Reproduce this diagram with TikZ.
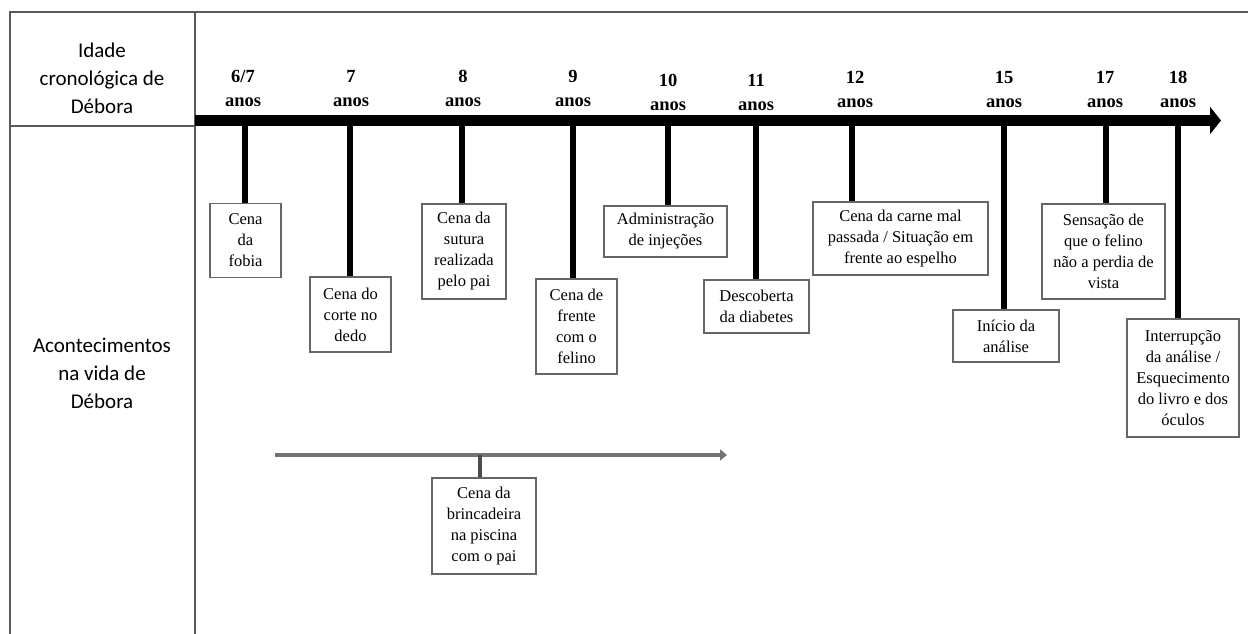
\documentclass[tikz,border=0pt]{standalone}
\usepackage{fontspec}
\setmainfont{Liberation Serif}
\newfontfamily\headfont{Carlito}
\usetikzlibrary{arrows.meta}
\usetikzlibrary{calc}

\begin{document}
\begin{tikzpicture}[x=1pt, y=-1pt,
        frame_style/.style={draw=black!65, line width=1.3pt},
        head_style/.style={align=center, inner sep=0pt, font=\headfont\fontsize{21}{28}\selectfont},
        age_style/.style={align=center, anchor=south, inner sep=0pt, font=\bfseries\fontsize{18.5}{24}\selectfont},
        event_style/.style={draw=black!60, line width=1.2pt, align=center, inner sep=0pt, font=\fontsize{16.5}{21}\selectfont},
        line_style/.style={draw=black, line width=11pt, -{Triangle[length=11pt,width=27pt]}},
        tick_style/.style={draw=black, line width=6.5pt},
        sub_line_style/.style={draw=black!55, line width=4.5pt, -{Triangle[length=7pt,width=11pt]}},
        sub_tick_style/.style={draw=black!70, line width=4pt}]

        \useasboundingbox (0,0) rectangle (1248,634);

        % table frame
        \draw [frame_style] (10,634) -- (10,12) -- (1248,12);
        \draw [frame_style] (195,12) -- (195,634);
        \draw [frame_style] (10,126) -- (195,126);
        \node [head_style](h1) at (102,78) {Idade\\cronológica de\\Débora};
        \node [head_style](h2) at (102,373) {Acontecimentos\\na vida de\\Débora};

        % main time line
        \coordinate (l0) at (195,120.5);
        \coordinate (l1) at (1221,120.5);
        \draw [line_style] (l0) -- (l1);

        \coordinate (t1) at (245,120);
        \coordinate (t2) at (350,120);
        \coordinate (t3) at (462,120);
        \coordinate (t4) at (573,120);
        \coordinate (t5) at (668,120);
        \coordinate (t6) at (756,120);
        \coordinate (t7) at (852,120);
        \coordinate (t8) at (1004,120);
        \coordinate (t9) at (1106,120);
        \coordinate (t10) at (1178,120);

        \node [age_style](a1) at (243,107) {6/7\\anos};
        \node [age_style](a2) at (351,107) {7\\anos};
        \node [age_style](a3) at (463,107) {8\\anos};
        \node [age_style](a4) at (573,107) {9\\anos};
        \node [age_style](a5) at (668,111) {10\\anos};
        \node [age_style](a6) at (756,111) {11\\anos};
        \node [age_style](a7) at (855,108) {12\\anos};
        \node [age_style](a8) at (1004,108) {15\\anos};
        \node [age_style](a9) at (1105,108) {17\\anos};
        \node [age_style](a10) at (1178,108) {18\\anos};

        % events
        \node [event_style, minimum width=71pt, minimum height=74pt](e1) at (245.5,240.5) {Cena\\da\\fobia};
        \node [event_style, minimum width=81pt, minimum height=75pt](e2) at (350.5,314.5) {Cena do\\corte no\\dedo};
        \node [event_style, minimum width=84pt, minimum height=95pt](e3) at (464,251.5) {Cena da\\sutura\\realizada\\pelo pai};
        \node [event_style, minimum width=81pt, minimum height=95pt](e4) at (576.5,326.5) {Cena de\\frente\\com o\\felino};
        \node [event_style, minimum width=123pt, minimum height=51pt](e5) at (665.5,231.5) {Administração\\de injeções};
        \node [event_style, minimum width=105pt, minimum height=53pt](e6) at (756.5,306.5) {Descoberta\\da diabetes};
        \node [event_style, minimum width=175pt, minimum height=73pt](e7) at (900.5,238.5) {Cena da carne mal\\passada / Situação em\\frente ao espelho};
        \node [event_style, minimum width=106pt, minimum height=52pt](e8) at (1006,336) {Início da\\análise};
        \node [event_style, minimum width=123pt, minimum height=95pt](e9) at (1103.5,251.5) {Sensação de\\que o felino\\não a perdia de\\vista};
        \node [event_style, minimum width=112pt, minimum height=118pt](e10) at (1183,378) {Interrupção\\da análise /\\Esquecimento\\do livro e dos\\óculos};

        \draw [tick_style] (t1) -- (t1 |- e1.north);
        \draw [tick_style] (t2) -- (t2 |- e2.north);
        \draw [tick_style] (t3) -- (t3 |- e3.north);
        \draw [tick_style] (t4) -- (t4 |- e4.north);
        \draw [tick_style] (t5) -- (t5 |- e5.north);
        \draw [tick_style] (t6) -- (t6 |- e6.north);
        \draw [tick_style] (t7) -- (t7 |- e7.north);
        \draw [tick_style] (t8) -- (t8 |- e8.north);
        \draw [tick_style] (t9) -- (t9 |- e9.north);
        \draw [tick_style] (t10) -- (t10 |- e10.north);

        % second time line
        \coordinate (s0) at (275,455);
        \coordinate (s1) at (727,455);
        \coordinate (s2) at (480,455);
        \draw [sub_line_style] (s0) -- (s1);
        \node [event_style, minimum width=104pt, minimum height=96pt](e11) at (484,526) {Cena da\\brincadeira\\na piscina\\com o pai};
        \draw [sub_tick_style] (s2) -- (s2 |- e11.north);
        \end{tikzpicture}
\end{document}
